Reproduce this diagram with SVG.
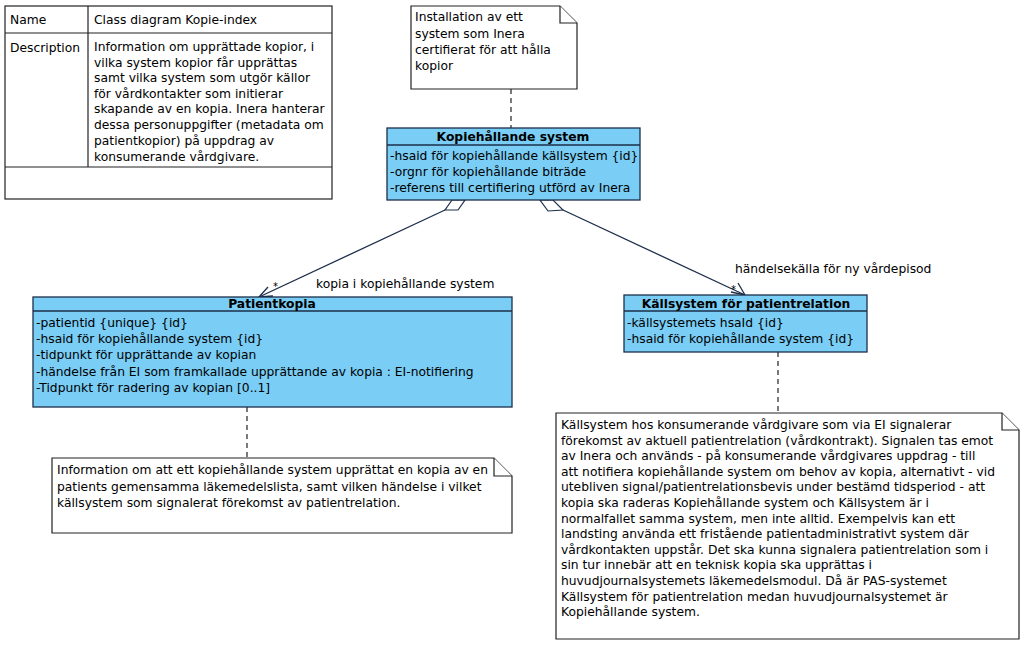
<svg xmlns="http://www.w3.org/2000/svg" width="1024" height="645" viewBox="0 0 1024 645">
<style>
text{font-family:"DejaVu Sans","Liberation Sans",sans-serif;font-size:12.3px;fill:#000}
.b{font-weight:bold;text-anchor:middle}
.cls{fill:#7ACDF5;stroke:#1C2E4A;stroke-width:1.3}
.note{fill:#fff;stroke:#222;stroke-width:1.2}
.tb{fill:#fff;stroke:#222;stroke-width:1.2}
.ln{stroke:#1C2E4A;stroke-width:1.3;fill:none}
.dash{stroke:#222;stroke-width:1.2;stroke-dasharray:5,4;fill:none}
.dia{fill:#fff;stroke:#1C2E4A;stroke-width:1.2}
.star{font-size:10px}
</style>
<rect width="1024" height="645" fill="#fff"/>
<g id="info-table">
<rect class="tb" x="5" y="6" width="327" height="193"/>
<line class="tb" x1="5" y1="33" x2="332" y2="33"/>
<line class="tb" x1="5" y1="167" x2="332" y2="167"/>
<line class="tb" x1="88" y1="6" x2="88" y2="167"/>
<text x="10" y="24">Name</text>
<text x="94" y="24">Class diagram Kopie-index</text>
<text x="10" y="52">Description</text>
<text x="94" y="51">Information om upprättade kopior, i</text>
<text x="94" y="67">vilka system kopior får upprättas</text>
<text x="94" y="82">samt vilka system som utgör källor</text>
<text x="94" y="98">för vårdkontakter som initierar</text>
<text x="94" y="113">skapande av en kopia. Inera hanterar</text>
<text x="94" y="129">dessa personuppgifter (metadata om</text>
<text x="94" y="145">patientkopior) på uppdrag av</text>
<text x="94" y="161">konsumerande vårdgivare.</text>
</g>
<g id="connectors">
<line class="dash" x1="511" y1="89" x2="511" y2="128"/>
<line class="dash" x1="247" y1="407" x2="247" y2="458"/>
<line class="dash" x1="778" y1="352" x2="778" y2="413"/>
<line class="ln" x1="445" y1="210" x2="259" y2="297"/>
<polyline class="ln" points="268,287 259,297 273,296"/>
<polygon class="dia" points="452,200 465,200 458,210 445,210"/>
<line class="ln" x1="563" y1="210" x2="745" y2="295"/>
<polyline class="ln" points="731,292 745,295 738,283"/>
<polygon class="dia" points="540,200 553,200 563,210 548,211"/>
<text x="316" y="288">kopia i kopiehållande system</text>
<text class="star" x="273" y="290">*</text>
<text x="735" y="273">händelsekälla för ny vårdepisod</text>
<text class="star" x="731" y="293">*</text>
</g>
<g id="note-installation">
<path class="note" d="M411,6 H560 L577,23 V89 H411 Z"/>
<path class="note" d="M560,6 V23 H577"/>
<text x="415" y="21">Installation av ett</text>
<text x="415" y="38">system som Inera</text>
<text x="415" y="54">certifierat för att hålla</text>
<text x="415" y="70">kopior</text>
</g>
<g id="class-kopiehallande">
<rect class="cls" x="387" y="128" width="253" height="72"/>
<line class="cls" x1="387" y1="145" x2="640" y2="145"/>
<text class="b" x="513" y="141">Kopiehållande system</text>
<text x="390" y="160">-hsaid för kopiehållande källsystem {id}</text>
<text x="390" y="176">-orgnr för kopiehållande biträde</text>
<text x="390" y="192">-referens till certifiering utförd av Inera</text>
</g>
<g id="class-patientkopia">
<rect class="cls" x="33" y="297" width="479" height="110"/>
<line class="cls" x1="33" y1="311" x2="512" y2="311"/>
<text class="b" x="272" y="308">Patientkopia</text>
<text x="36" y="327">-patientid {unique} {id}</text>
<text x="36" y="343">-hsaid för kopiehållande system {id}</text>
<text x="36" y="359">-tidpunkt för upprättande av kopian</text>
<text x="36" y="376">-händelse från EI som framkallade upprättande av kopia : EI-notifiering</text>
<text x="36" y="392">-Tidpunkt för radering av kopian [0..1]</text>
</g>
<g id="class-kallsystem">
<rect class="cls" x="624" y="295" width="243" height="57"/>
<line class="cls" x1="624" y1="311" x2="867" y2="311"/>
<text class="b" x="746" y="308">Källsystem för patientrelation</text>
<text x="627" y="327">-källsystemets hsaId {id}</text>
<text x="627" y="343">-hsaid för kopiehållande system {id}</text>
</g>
<g id="note-patientkopia">
<path class="note" d="M52,458 H494 L512,476 V533 H52 Z"/>
<path class="note" d="M494,458 V476 H512"/>
<text x="57" y="474">Information om att ett kopiehållande system upprättat en kopia av en</text>
<text x="57" y="491">patients gemensamma läkemedelslista, samt vilken händelse i vilket</text>
<text x="57" y="507">källsystem som signalerat förekomst av patientrelation.</text>
</g>
<g id="note-kallsystem">
<path class="note" d="M556,413 H1002 L1019,430 V639 H556 Z"/>
<path class="note" d="M1002,413 V430 H1019"/>
<text x="561" y="429">Källsystem hos konsumerande vårdgivare som via EI signalerar</text>
<text x="561" y="445">förekomst av aktuell patientrelation (vårdkontrakt). Signalen tas emot</text>
<text x="561" y="460">av Inera och används - på konsumerande vårdgivares uppdrag - till</text>
<text x="561" y="476">att notifiera kopiehållande system om behov av kopia, alternativt - vid</text>
<text x="561" y="491">utebliven signal/patientrelationsbevis under bestämd tidsperiod - att</text>
<text x="561" y="507">kopia ska raderas Kopiehållande system och Källsystem är i</text>
<text x="561" y="523">normalfallet samma system, men inte alltid. Exempelvis kan ett</text>
<text x="561" y="538">landsting använda ett fristående patientadministrativt system där</text>
<text x="561" y="554">vårdkontakten uppstår. Det ska kunna signalera patientrelation som i</text>
<text x="561" y="569">sin tur innebär att en teknisk kopia ska upprättas i</text>
<text x="561" y="585">huvudjournalsystemets läkemedelsmodul. Då är PAS-systemet</text>
<text x="561" y="601">Källsystem för patientrelation medan huvudjournalsystemet är</text>
<text x="561" y="616">Kopiehållande system.</text>
</g>
</svg>
